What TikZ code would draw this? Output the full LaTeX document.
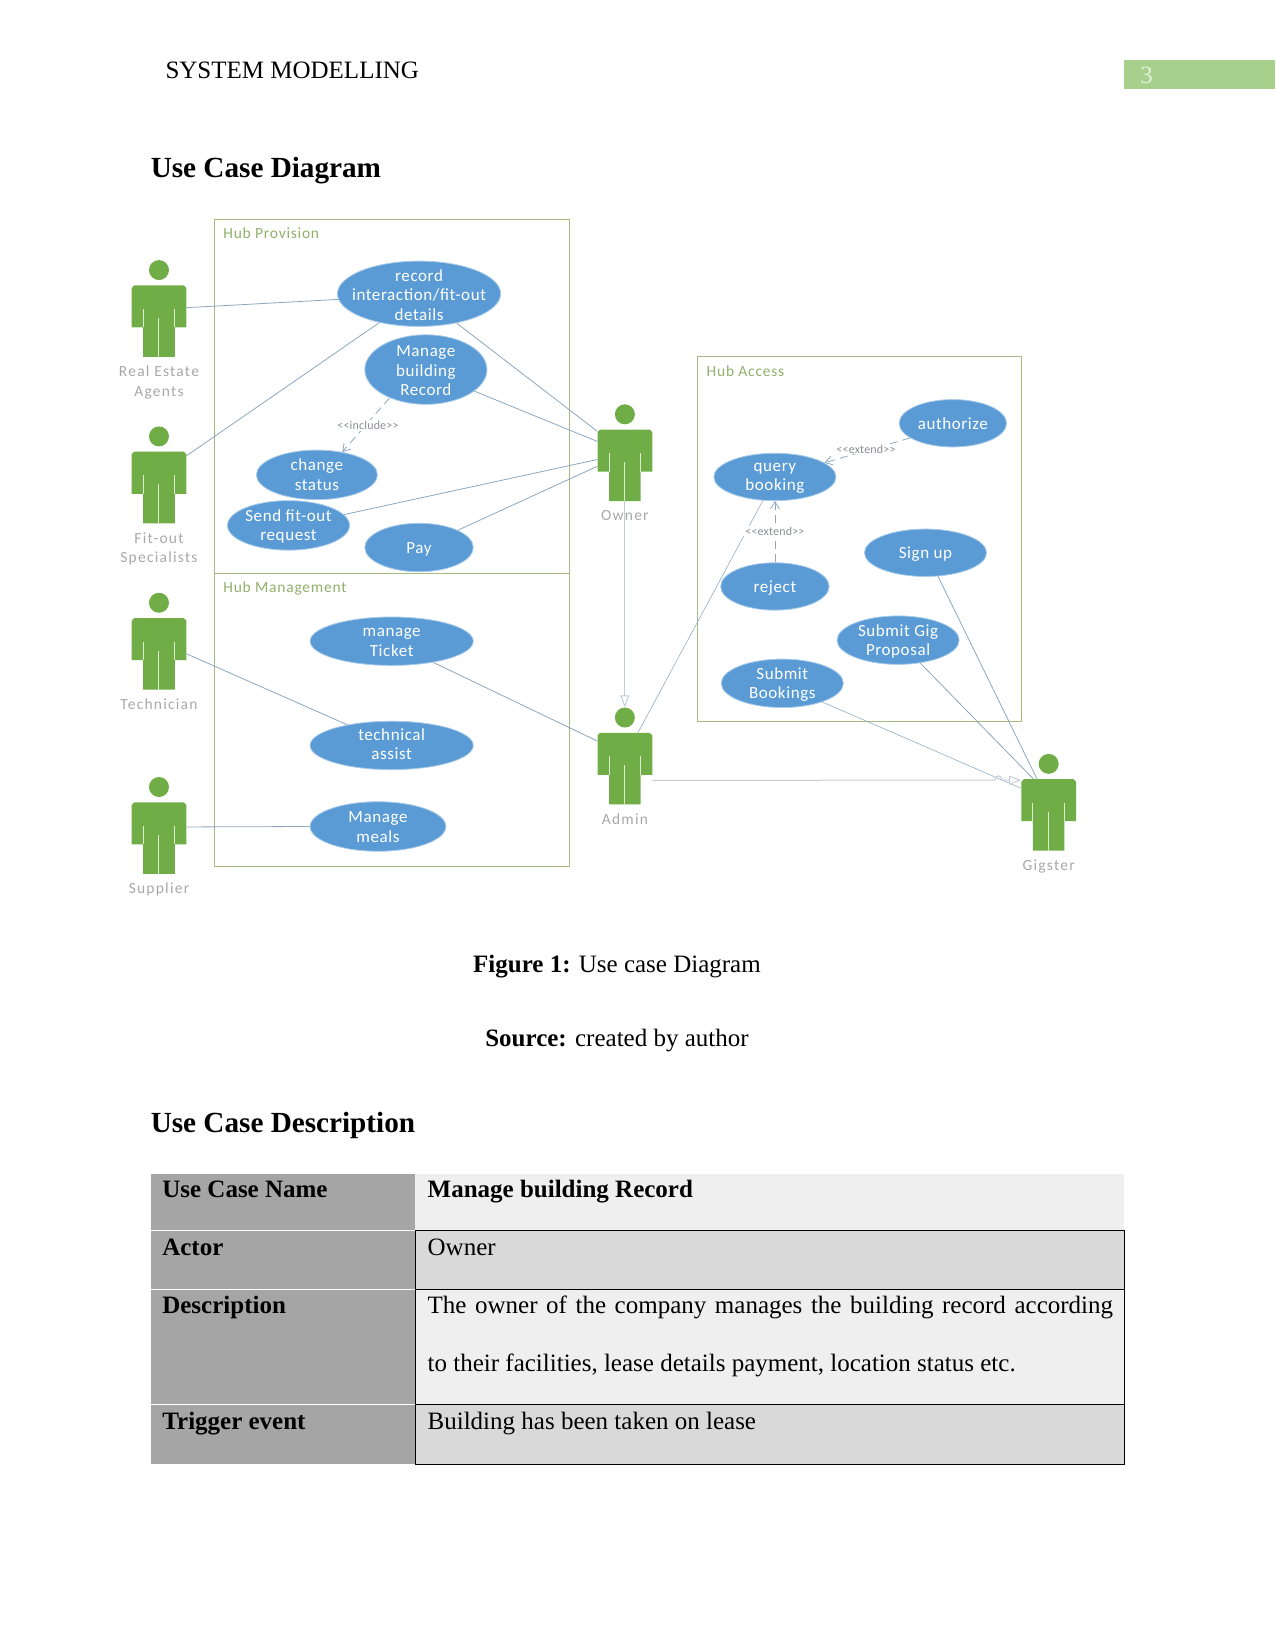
\documentclass[tikz,border=0pt]{standalone}
\usepackage{fontspec}
\usetikzlibrary{arrows.meta,shapes.geometric}
\setmainfont{Liberation Serif}
\newfontfamily\casefont[LetterSpace=3.5]{Carlito}
\newfontfamily\actorfont[LetterSpace=8]{Carlito}
\newfontfamily\hubfont[LetterSpace=5]{Carlito}
\newfontfamily\tagfont[LetterSpace=1.5]{Carlito}
\definecolor{casefill}{HTML}{5B9BD5}
\definecolor{caseedge}{HTML}{A8CBEA}
\definecolor{actorgreen}{HTML}{70AD47}
\definecolor{slit}{HTML}{DCEBD0}
\definecolor{boxline}{HTML}{A6BB80}
\definecolor{boxtitle}{HTML}{8FB06A}
\definecolor{assoc}{HTML}{8CA7BE}
\definecolor{paleline}{HTML}{C4CCD4}
\definecolor{actortext}{HTML}{A8A8A8}
\definecolor{tagtext}{HTML}{8A8F96}
\definecolor{pagebar}{HTML}{A8D08D}
\definecolor{pagenum}{HTML}{E2EFD9}
\definecolor{rowdark}{HTML}{D9D9D9}
\definecolor{rowlight}{HTML}{EFEFEF}
\definecolor{headcol}{HTML}{A5A5A5}
\tikzset{
  hubbox/.style={draw=boxline,line width=1pt},
  hubtitle/.style={anchor=west,text=boxtitle,font=\hubfont\fontsize{15.5}{18}\selectfont,inner sep=0pt},
  caseshape/.style={ellipse,fill=casefill,draw=caseedge,line width=0.8pt,inner sep=0pt},
  casetext/.style={text=white,align=center,inner sep=0pt,font=\casefont\fontsize{17}{19.4}\selectfont},
  actorbody/.style={rectangle,minimum width=54.75pt,minimum height=71.6pt,inner sep=0pt},
  actorhead/.style={circle,fill=actorgreen,minimum size=20pt,inner sep=0pt},
  actorfill/.style={fill=actorgreen},
  actorslit/.style={draw=slit,line width=1pt},
  actorlabel/.style={text=actortext,align=center,anchor=north,inner sep=0pt,font=\actorfont\fontsize{15.5}{19.4}\selectfont},
  assocline/.style={draw=assoc,line width=0.8pt},
  thinline/.style={draw=assoc,line width=0.55pt},
  depline/.style={draw=assoc,line width=0.8pt,dashed,dash pattern=on 8pt off 5pt,-{Straight Barb[length=7pt,width=9pt]}},
  genline/.style={draw=paleline,line width=1pt,-{Triangle[open,length=12pt,width=9pt]}},
  tagtextstyle/.style={text=tagtext,fill=white,inner sep=1pt,font=\tagfont\fontsize{12}{13}\selectfont},
  body/.style={anchor=base west,inner sep=0pt,font=\fontsize{25}{30}\selectfont},
  bodybold/.style={anchor=base west,inner sep=0pt,font=\bfseries\fontsize{25}{30}\selectfont},
  heading/.style={anchor=base west,inner sep=0pt,font=\bfseries\fontsize{29.2}{34}\selectfont},
  captiontext/.style={anchor=base,inner sep=0pt,font=\fontsize{25}{30}\selectfont},
  rule/.style={draw=black,line width=1pt}
}
% name, centre x, centre y, half width, half height, y of the text, text
\newcommand{\usecase}[7]{%
  \node[caseshape,minimum width=#4*2.1057pt,minimum height=#5*2.1057pt] (#1) at (#2,#3) {};
  \node[casetext] (#1-text) at (#2,#6) {#7};
}
% name, centre x, top of body, label
\newcommand{\stickman}[4]{%
  \begin{scope}[shift={(#2,#3)}]
    \node[actorhead] (#1-head) at (0,-14.5) {};
    \node[actorbody] (#1) at (0,34) {};
    \fill[actorfill] (-23.5,0) -- (23.5,0) -- (26,2.5) -- (26,40) -- (15,40) -- (15,68)
      -- (-15,68) -- (-15,40) -- (-26,40) -- (-26,2.5) -- cycle;
    \draw[actorslit] (-15,22.5) -- (-15,40) (15,22.5) -- (15,40) (0,31) -- (0,68);
    \node[actorlabel] (#1-label) at (0,76.5) {#4};
  \end{scope}
}
\begin{document}
\begin{tikzpicture}[x=1.05285pt,y=-1.05285pt]
\useasboundingbox (0,0) rectangle (1211,1568.1);

% running head
\fill[pagebar] (1068,57) rectangle (1211,85);
\node[body,text=pagenum,anchor=base] (pageno) at (1089,79) {3};
\node[body] (runhead) at (157,75) {SYSTEM MODELLING};
\node[heading] (title1) at (143,168.5) {Use Case Diagram};

% system boundaries
\draw[hubbox] (203.5,208) rectangle (541,545);
\draw[hubbox] (203.5,545) rectangle (541,823);
\draw[hubbox] (662,339) rectangle (970.5,685);
\node[hubtitle] (hubprov) at (212,221) {Hub Provision};
\node[hubtitle] (hubmgmt) at (212,559) {Hub Management};
\node[hubtitle] (hubacc) at (671,352.5) {Hub Access};

% actors
\stickman{realest}{151}{271}{Real Estate\\Agents}
\stickman{fitout}{151}{429}{Fit-out\\Specialists}
\stickman{tech}{151}{587}{Technician}
\stickman{supplier}{151}{762}{Supplier}
\stickman{owner}{593.5}{408}{Owner}
\stickman{admin}{593.5}{696}{Admin}
\stickman{gigster}{996}{740}{Gigster}

% use cases
\usecase{record}{398}{279}{77.5}{31}{280}{record\\interaction/fit-out\\details}
\usecase{manage}{404.5}{351}{58}{33}{352}{Manage\\building\\Record}
\usecase{change}{301}{451}{57.5}{23.5}{451}{change\\status}
\usecase{send}{274}{499}{58}{23.5}{500}{Send fit-out\\request}
\usecase{pay}{398}{520}{51.5}{23}{521.5}{Pay}
\usecase{ticket}{372}{609}{77.5}{23}{610}{manage\\Ticket}
\usecase{assist}{372}{708}{77.5}{23}{707}{technical\\assist}
\usecase{meals}{359}{785}{64.5}{23.5}{785.5}{Manage\\meals}
\usecase{authorize}{905}{402}{51}{22.5}{402.5}{authorize}
\usecase{query}{736}{453}{58}{22.5}{454.5}{query\\booking}
\usecase{reject}{736}{557}{51.5}{22.5}{558.5}{reject}
\usecase{signup}{879}{525}{58}{22.5}{526}{Sign up}
\usecase{gig}{853}{608}{58}{23}{609.5}{Submit Gig\\Proposal}
\usecase{bookings}{743}{649}{58}{23}{650}{Submit\\Bookings}

% associations
\draw[assocline] (realest.26.6) -- (record.184.5);
\draw[assocline] (fitout.49.1) -- (record.216.9);
\draw[assocline] (record.-38.1) -- (owner.129.4);
\draw[assocline] (manage.-24.3) -- (owner.139.2);
\draw[assocline] (send.11.7) -- (owner.168.9);
\draw[assocline] (pay.24) -- (owner.182);
\draw[assocline] (ticket.-27) -- (admin.135.6);
\draw[assocline] (tech.east) -- (assist.155.6);
\draw[assocline] (supplier.22.9) -- (meals.west);
\draw[thinline] (admin.70) -- (query.-117.6);
\draw[assocline] (signup.-62.4) -- (gigster.108);
\draw[assocline] (gig.-46.3) -- (gigster.113.8);
\draw[thinline] (bookings.-25.3) -- (gigster.136.1);

% generalisations
\draw[genline] (owner.south) -- (admin-head.north);
\coordinate (humpstart) at (945,741);
\coordinate (humpend) at (952,741);
\draw[genline] (admin.-23.3) -- (humpstart) .. controls (946,735.5) and (951,735.5) .. (humpend) -- (gigster.west |- humpend);

% include and extend dependencies
\draw[depline] (manage.218.5) -- (change.42.3);
\node[tagtextstyle] (tag-include) at (349.5,404) {<<include>>};
\draw[depline] (authorize.199.2) -- (query.16.6);
\node[tagtextstyle] (tag-extend1) at (822.5,426.5) {<<extend>>};
\draw[depline] (reject.north) -- (query.south);
\node[tagtextstyle] (tag-extend2) at (736,504.5) {<<extend>>};

% captions
\node[captiontext] (fig) at (586,924) {\textbf{Figure 1:} Use case Diagram};
\node[captiontext] (src) at (586,994) {\textbf{Source:} created by author};
\node[heading] (title2) at (143,1075.5) {Use Case Description};

% description table
\fill[headcol] (143,1115) rectangle (394,1390);
\fill[rowlight] (394,1115) rectangle (1068,1169);
\fill[rowdark] (394,1169) rectangle (1068,1225);
\fill[rowlight] (394,1225) rectangle (1068,1334);
\fill[rowdark] (394,1334) rectangle (1068,1390);
\draw[white,line width=1.2pt] (143,1169) -- (394,1169) (143,1225) -- (394,1225) (143,1334) -- (394,1334);
\draw[rule] (394.5,1169) rectangle (1068,1390.5);
\draw[rule] (394.5,1225) -- (1068,1225) (394.5,1334) -- (1068,1334);

\node[bodybold] (c11) at (154,1137) {Use Case Name};
\node[bodybold] (c12) at (406,1137) {Manage building Record};
\node[bodybold] (c21) at (154,1192) {Actor};
\node[body] (c22) at (406,1192) {Owner};
\node[bodybold] (c31) at (154,1248) {Description};
\node[body] (c32a) at (406,1248) {\makebox[685.4pt][s]{The owner of the company manages the building record according}};
\node[body] (c32b) at (406,1303) {to their facilities, lease details payment, location status etc.};
\node[bodybold] (c41) at (154,1358) {Trigger event};
\node[body] (c42) at (406,1358) {Building has been taken on lease};
\end{tikzpicture}
\end{document}
